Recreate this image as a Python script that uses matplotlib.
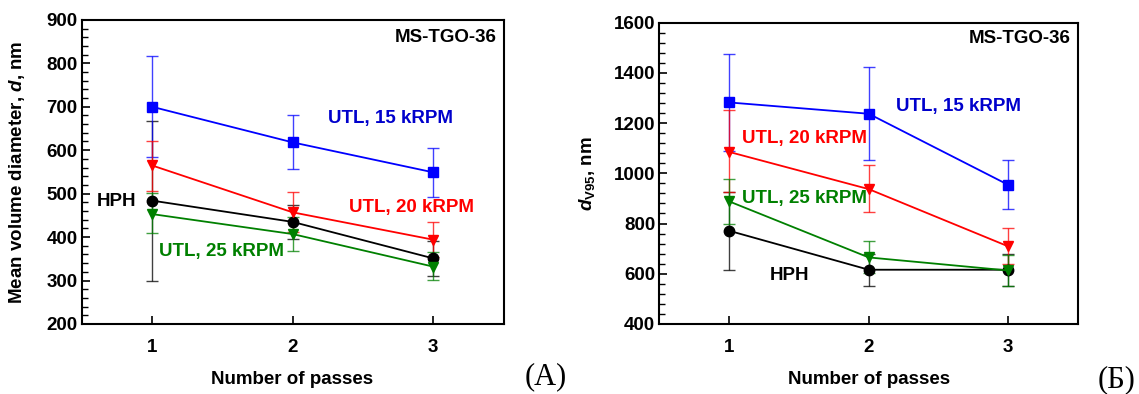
import matplotlib
matplotlib.use("Agg")
import matplotlib.pyplot as plt
from matplotlib.ticker import MultipleLocator

plt.rcParams['font.family'] = ['Liberation Sans', 'DejaVu Sans']
plt.rcParams['font.weight'] = 'bold'
plt.rcParams['mathtext.fontset'] = 'custom'
plt.rcParams['mathtext.rm'] = 'Liberation Sans:bold'
plt.rcParams['mathtext.bf'] = 'Liberation Sans:bold'
plt.rcParams['mathtext.it'] = 'Liberation Sans:italic:bold'

passes = [1, 2, 3]

# (A) mean volume diameter d, nm
hph_d = [484, 435, 351]
hph_d_lo = [299, 396, 311]
hph_d_hi = [668, 474, 392]
utl15_d = [700, 618, 549]
utl15_d_lo = [584, 556, 493]
utl15_d_hi = [816, 680, 605]
utl20_d = [565, 457, 394]
utl20_d_lo = [507, 412, 355]
utl20_d_hi = [622, 503, 434]
utl25_d = [453, 407, 332]
utl25_d_lo = [409, 368, 301]
utl25_d_hi = [501, 447, 365]

# (Б) d_V95, nm
hph_d95 = [771, 616, 616]
hph_d95_lo = [616, 553, 553]
hph_d95_hi = [926, 679, 679]
utl15_d95 = [1282, 1237, 954]
utl15_d95_lo = [1090, 1051, 859]
utl15_d95_hi = [1475, 1425, 1051]
utl20_d95 = [1085, 937, 709]
utl20_d95_lo = [924, 845, 640]
utl20_d95_hi = [1253, 1031, 782]
utl25_d95 = [888, 665, 613]
utl25_d95_lo = [799, 603, 553]
utl25_d95_hi = [978, 730, 675]

BLUE, RED, GREEN, BLACK = '#0000ff', '#ff0000', '#008000', '#000000'
FS = 13.5


def draw_series(ax, y, lo, hi, color, marker):
    yerr = [[v - l for v, l in zip(y, lo)], [h - v for v, h in zip(y, hi)]]
    ax.errorbar(passes, y, yerr=yerr, fmt='none', ecolor=color, elinewidth=1.0,
                capsize=4, capthick=1.0, alpha=0.75, zorder=2)
    ax.plot(passes, y, color=color, marker=marker, markersize=7.5, linewidth=1.3, zorder=3)


def style_axes(ax, ymin, ymax, major, minor):
    ax.set_xlim(0.5, 3.5)
    ax.set_ylim(ymin, ymax)
    ax.set_xticks(passes)
    ax.yaxis.set_major_locator(MultipleLocator(major))
    ax.yaxis.set_minor_locator(MultipleLocator(minor))
    ax.tick_params(axis='y', which='major', direction='in', length=6, width=1.2,
                   labelsize=FS, pad=3)
    ax.tick_params(axis='y', which='minor', direction='in', length=4, width=1.0)
    ax.tick_params(axis='x', which='major', direction='in', length=6, width=1.2,
                   labelsize=FS, pad=11)
    ax.tick_params(axis='x', which='minor', bottom=False)
    for s in ax.spines.values():
        s.set_linewidth(1.5)
    for lab in ax.get_xticklabels() + ax.get_yticklabels():
        lab.set_fontweight('bold')
    ax.set_xlabel('Number of passes', fontsize=FS, fontweight='bold')


fig = plt.figure(figsize=(11.39, 3.94), dpi=100)
ax1 = fig.add_axes([0.0716, 0.1777, 0.3705, 0.772])
ax2 = fig.add_axes([0.579, 0.1777, 0.3674, 0.765])

# --- (A) ---
draw_series(ax1, hph_d, hph_d_lo, hph_d_hi, BLACK, 'o')
draw_series(ax1, utl15_d, utl15_d_lo, utl15_d_hi, BLUE, 's')
draw_series(ax1, utl20_d, utl20_d_lo, utl20_d_hi, RED, 'v')
draw_series(ax1, utl25_d, utl25_d_lo, utl25_d_hi, GREEN, 'v')
style_axes(ax1, 200, 900, 100, 20)
ax1.set_ylabel(r'Mean volume diameter, $\mathit{d}$, nm', fontsize=FS, fontweight='bold')
ax1.yaxis.set_label_coords(-0.13, 0.5)
ax1.xaxis.set_label_coords(0.5, -0.155)

ax1.text(3.453, 859, 'MS-TGO-36', ha='right', va='center', fontsize=FS, fontweight='bold')
ax1.text(2.694, 674, 'UTL, 15 kRPM', ha='center', va='center', fontsize=FS,
         fontweight='bold', color='#0000cc')
ax1.text(2.847, 469, 'UTL, 20 kRPM', ha='center', va='center', fontsize=FS,
         fontweight='bold', color=RED)
ax1.text(0.748, 481, 'HPH', ha='center', va='center', fontsize=FS, fontweight='bold')
ax1.text(1.492, 366, 'UTL, 25 kRPM', ha='center', va='center', fontsize=FS,
         fontweight='bold', color=GREEN)

# --- (Б) ---
draw_series(ax2, hph_d95, hph_d95_lo, hph_d95_hi, BLACK, 'o')
draw_series(ax2, utl15_d95, utl15_d95_lo, utl15_d95_hi, BLUE, 's')
draw_series(ax2, utl20_d95, utl20_d95_lo, utl20_d95_hi, RED, 'v')
draw_series(ax2, utl25_d95, utl25_d95_lo, utl25_d95_hi, GREEN, 'v')
style_axes(ax2, 400, 1600, 200, 40)
ax2.set_ylabel(r'$\mathit{d}_{\mathrm{V95}}$, nm', fontsize=FS, fontweight='bold')
ax2.yaxis.set_label_coords(-0.15, 0.5)
ax2.xaxis.set_label_coords(0.5, -0.156)

ax2.text(3.446, 1535, 'MS-TGO-36', ha='right', va='center', fontsize=FS, fontweight='bold')
ax2.text(2.641, 1264, 'UTL, 15 kRPM', ha='center', va='center', fontsize=FS,
         fontweight='bold', color='#0000cc')
ax2.text(1.538, 1137, 'UTL, 20 kRPM', ha='center', va='center', fontsize=FS,
         fontweight='bold', color=RED)
ax2.text(1.538, 898, 'UTL, 25 kRPM', ha='center', va='center', fontsize=FS,
         fontweight='bold', color=GREEN)
ax2.text(1.434, 595, 'HPH', ha='center', va='center', fontsize=FS, fontweight='bold')

fig.text(0.4794, 0.0431, '(A)', ha='center', va='center', fontsize=22,
         family='Liberation Serif', fontweight='normal')
fig.text(0.997, 0.0355, '(Б)', ha='right', va='center', fontsize=22,
         family='Liberation Serif', fontweight='normal')

fig.savefig('out.png', dpi=100)
